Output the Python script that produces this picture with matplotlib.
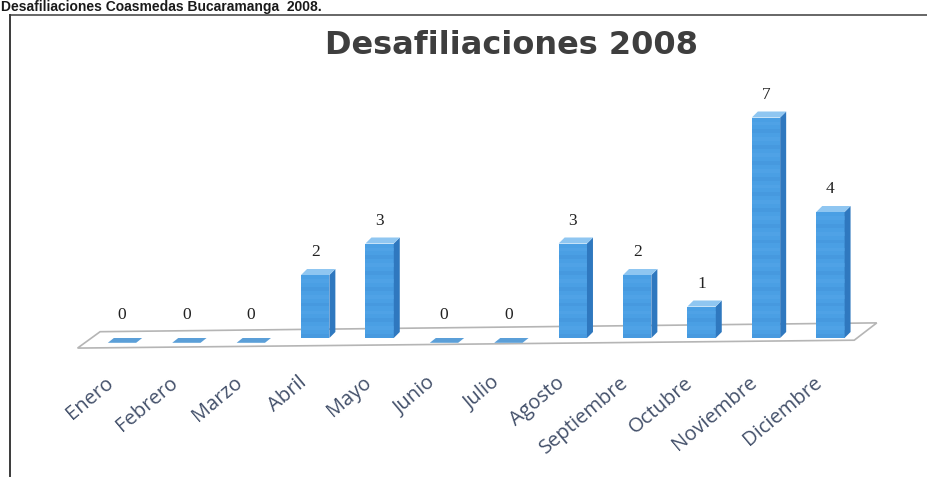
import matplotlib
matplotlib.use("Agg")
import matplotlib.pyplot as plt
from matplotlib.patches import Polygon
from matplotlib.lines import Line2D

# Monthly disaffiliations, 2008
meses = ["Enero", "Febrero", "Marzo", "Abril", "Mayo", "Junio", "Julio",
         "Agosto", "Septiembre", "Octubre", "Noviembre", "Diciembre"]
desafiliaciones = [0, 0, 0, 2, 3, 0, 0, 3, 2, 1, 7, 4]

titulo = "Desafiliaciones 2008"
encabezado = "Desafiliaciones Coasmedas Bucaramanga  2008."

W, H = 928, 478
fig = plt.figure(figsize=(W / 100, H / 100), dpi=100)
fig.patch.set_facecolor("white")

# Axes placed so that one category step ~64.4 px and one unit ~31.5 px
x0_px, x1_px = 122 - 64.4, 122 + 12 * 64.4
y_lo, y_hi = -1.5, 8.5
base_px, unit_px = 338, 31.5
ax_bottom_px = base_px - y_lo * unit_px
ax_top_px = base_px - y_hi * unit_px
ax = fig.add_axes([x0_px / W, 1 - ax_bottom_px / H,
                   (x1_px - x0_px) / W, (ax_bottom_px - ax_top_px) / H])
ax.set_xlim(-1.0, 12.0)
ax.set_ylim(y_lo, y_hi)
ax.axis("off")

# depth of the pseudo-3D extrusion in data units
dx = 6 / 64.4
dy = 6 / unit_px
bw = 0.44

# floor plane
floor = Polygon([(-0.69, -0.32), (11.37, -0.07), (11.72, 0.48), (-0.34, 0.2)],
                closed=True, facecolor="white", edgecolor="#b5b5b5",
                linewidth=1.2, zorder=1)
ax.add_patch(floor)

front_c = "#4a9fe4"
side_c = "#2f78bf"
top_c = "#8fc6f1"

x = list(range(len(meses)))
bars = ax.bar(x, desafiliaciones, width=bw, color=front_c, edgecolor="none",
              zorder=3)
for b, v in zip(bars, desafiliaciones):
    xl = b.get_x()
    xr = xl + b.get_width()
    h = b.get_height()
    if v > 0:
        side = Polygon([(xr, 0), (xr + dx, dy), (xr + dx, h + dy), (xr, h)],
                       closed=True, facecolor=side_c, edgecolor="none", zorder=3)
        ax.add_patch(side)
        # subtle horizontal banding on the front face
        for k in range(int(h * 4)):
            yb = k * 0.25
            ax.fill_between([xl, xr], yb, min(yb + 0.12, h),
                            color="#5aaaeb" if k % 2 else "#3f90d8",
                            alpha=0.35, linewidth=0, zorder=3.5)
        top = Polygon([(xl, h), (xr, h), (xr + dx, h + dy), (xl + dx, h + dy)],
                      closed=True, facecolor=top_c, edgecolor="none", zorder=3.6)
    else:
        # flat slab lying on the floor for empty months
        top = Polygon([(xl, -0.8 * dy), (xr, -0.8 * dy), (xr + dx, 0),
                       (xl + dx, 0)],
                      closed=True, facecolor="#5b9fd8", edgecolor="none",
                      zorder=3.6)
    ax.add_patch(top)
    ax.text(b.get_x() + b.get_width() / 2, h + dy + 0.28, str(v),
            ha="center", va="bottom", fontsize=12.5,
            family="Liberation Serif", color="#222222", zorder=5)

# rotated month labels
for i, m in enumerate(meses):
    ax.text(i - 0.17, -1.35, m, rotation=40, rotation_mode="anchor",
            ha="right", va="center", fontsize=14.5, family="Open Sans",
            color="#43506a", zorder=5)

# title
fig.text(512 / W, 1 - 45 / H, titulo, ha="center", va="center",
         fontsize=23, fontweight="bold", family="DejaVu Sans", color="#3e3e3e")

# caption above the chart frame
fig.text(1 / W, 1 - 10.5 / H, encabezado, ha="left", va="baseline",
         fontsize=10, fontweight="bold", family="Liberation Sans",
         color="#1a1a1a")

# chart frame: top and left borders
fig.add_artist(Line2D([10 / W, 1.0], [1 - 14.5 / H, 1 - 14.5 / H],
                      transform=fig.transFigure, color="#5a5a5a", lw=1.3))
fig.add_artist(Line2D([10 / W, 10 / W], [1 - 14.5 / H, 1 - 476 / H],
                      transform=fig.transFigure, color="#3a3a3a", lw=1.4))

fig.savefig("out.png", dpi=100, facecolor="white")
